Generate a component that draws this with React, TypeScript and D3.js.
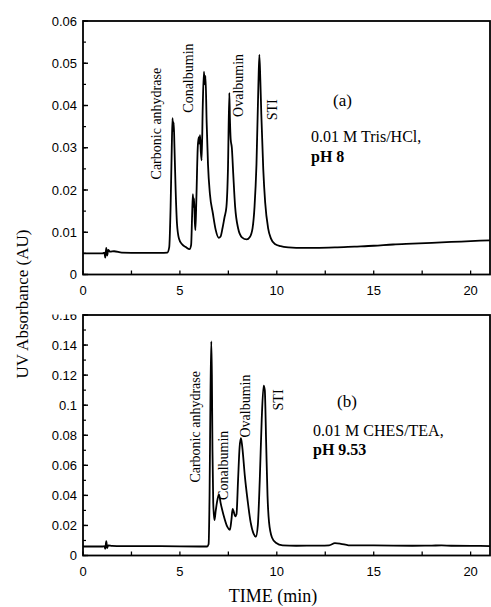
import React from "react";
import * as d3 from "d3";

// ---- Data ----
const timeA = [0, 0.5, 1.0, 1.1, 1.15, 1.2, 1.25, 1.3, 1.4, 1.6, 2.0, 3.0, 4.0, 4.35, 4.45, 4.52, 4.58, 4.62, 4.65, 4.68, 4.72, 4.78, 4.85, 4.95, 5.1, 5.3, 5.5, 5.58, 5.63, 5.67, 5.7, 5.73, 5.77, 5.8, 5.85, 5.92, 5.97, 6.0, 6.04, 6.08, 6.12, 6.18, 6.24, 6.28, 6.32, 6.38, 6.45, 6.55, 6.7, 6.85, 7.0, 7.1, 7.2, 7.3, 7.4, 7.48, 7.55, 7.58, 7.62, 7.68, 7.75, 7.85, 8.0, 8.2, 8.45, 8.6, 8.75, 8.85, 8.95, 9.05, 9.1, 9.15, 9.2, 9.3, 9.4, 9.55, 9.7, 9.9, 10.2, 10.6, 11, 12, 13, 14, 15, 16, 17, 18, 19, 20, 21];
const absA = [0.005, 0.005, 0.005, 0.0052, 0.004, 0.0063, 0.0045, 0.0058, 0.0054, 0.0055, 0.0052, 0.0051, 0.0051, 0.0052, 0.0065, 0.016, 0.03, 0.037, 0.034, 0.036, 0.03, 0.02, 0.012, 0.0085, 0.0072, 0.0065, 0.006, 0.007, 0.014, 0.019, 0.016, 0.018, 0.0125, 0.0105, 0.018, 0.03, 0.0325, 0.031, 0.033, 0.029, 0.027, 0.04, 0.048, 0.045, 0.047, 0.036, 0.026, 0.019, 0.0145, 0.0105, 0.0087, 0.009, 0.011, 0.0135, 0.016, 0.025, 0.043, 0.037, 0.032, 0.03, 0.024, 0.016, 0.011, 0.0088, 0.0083, 0.0088, 0.011, 0.016, 0.026, 0.045, 0.052, 0.046, 0.038, 0.025, 0.017, 0.011, 0.0085, 0.0072, 0.0067, 0.0064, 0.0063, 0.0063, 0.0064, 0.0066, 0.0068, 0.0071, 0.0073, 0.0075, 0.0077, 0.0079, 0.0081];

const timeB = [0, 0.5, 1.0, 1.1, 1.15, 1.2, 1.25, 1.3, 1.5, 2, 3, 4, 5, 6, 6.4, 6.48, 6.53, 6.58, 6.62, 6.65, 6.68, 6.72, 6.78, 6.85, 6.95, 7.02, 7.1, 7.25, 7.45, 7.58, 7.66, 7.72, 7.78, 7.85, 7.92, 8.0, 8.08, 8.15, 8.22, 8.35, 8.5, 8.65, 8.8, 8.92, 9.02, 9.12, 9.22, 9.32, 9.38, 9.45, 9.52, 9.6, 9.75, 9.95, 10.3, 11, 12, 12.7, 13.0, 13.3, 13.7, 14, 15, 16, 17, 18, 18.5, 19, 20, 21];
const absB = [0.006, 0.006, 0.006, 0.0062, 0.0045, 0.0095, 0.005, 0.0068, 0.0064, 0.0062, 0.0062, 0.0062, 0.0061, 0.006, 0.006, 0.0075, 0.04, 0.11, 0.1425, 0.12, 0.07, 0.035, 0.0235, 0.03, 0.038, 0.0405, 0.035, 0.027, 0.019, 0.017, 0.024, 0.031, 0.029, 0.026, 0.0275, 0.05, 0.072, 0.078, 0.072, 0.053, 0.036, 0.022, 0.0145, 0.0125, 0.02, 0.05, 0.09, 0.113, 0.11, 0.075, 0.04, 0.022, 0.012, 0.0085, 0.0068, 0.0065, 0.0066, 0.0068, 0.0082, 0.0078, 0.0068, 0.0067, 0.0067, 0.0066, 0.0065, 0.0066, 0.0067, 0.0065, 0.0064, 0.0063];

const xTicks = [0, 5, 10, 15, 20];
const yTicksA = [0, 0.01, 0.02, 0.03, 0.04, 0.05, 0.06];
const yTicksB = [0, 0.02, 0.04, 0.06, 0.08, 0.1, 0.12, 0.14, 0.16];

const labelsA = [
  { name: "Carbonic anhydrase", t: 4.0, y: 0.0225 },
  { name: "Conalbumin", t: 5.7, y: 0.0383 },
  { name: "Ovalbumin", t: 8.28, y: 0.0373 },
  { name: "STI", t: 10.0, y: 0.0365 },
];
const labelsB = [
  { name: "Carbonic anhydrase", t: 6.04, y: 0.0485 },
  { name: "Conalbumin", t: 7.48, y: 0.037 },
  { name: "Ovalbumin", t: 8.6, y: 0.0785 },
  { name: "STI", t: 10.3, y: 0.0965 },
];

const W = 491;
const H = 607;
const L = 83;
const R = 490;

const fmt = (v: number) => String(+v.toFixed(2));

type PanelProps = {
  top: number;
  bottom: number;
  yMax: number;
  yTicks: number[];
  yMinorStep: number;
  times: number[];
  values: number[];
  labels: { name: string; t: number; y: number }[];
  id: string;
  tag: string;
  tagX: number;
  tagY: number;
  line1: string;
  line1Y: number;
  line1X: number;
  line2: string;
  line2Y: number;
  clipTop?: number;
};

function Panel(p: PanelProps) {
  const x = d3.scaleLinear().domain([0, 21]).range([L, R]);
  const y = d3.scaleLinear().domain([0, p.yMax]).range([p.bottom, p.top]);
  const line = d3
    .line<number>()
    .x((_, i) => x(p.times[i]))
    .y((d) => y(d))
    .curve(d3.curveMonotoneX);
  const minorY = d3.range(0, p.yMax + 1e-9, p.yMinorStep);
  const minorX = d3.range(0, 21, 2.5);
  return (
    <g>
      <defs>
        <clipPath id={"clip" + p.id}>
          <rect x={L} y={p.top} width={R - L} height={p.bottom - p.top} />
        </clipPath>
        <clipPath id={"lab" + p.id}>
          <rect x={0} y={p.clipTop ?? 0} width={L} height={H} />
        </clipPath>
      </defs>
      <path
        d={line(p.values) || ""}
        fill="none"
        stroke="#000"
        strokeWidth={1.8}
        strokeLinejoin="round"
        clipPath={`url(#clip${p.id})`}
      />
      <rect x={L} y={p.top} width={R - L} height={p.bottom - p.top} fill="none" stroke="#000" strokeWidth={1.8} />
      {minorY.map((v, i) => (
        <line key={"my" + i} x1={L} x2={L + 3} y1={y(v)} y2={y(v)} stroke="#000" strokeWidth={1.2} />
      ))}
      {p.yTicks.map((v, i) => (
        <line key={"yt" + i} x1={L} x2={L + 5} y1={y(v)} y2={y(v)} stroke="#000" strokeWidth={1.4} />
      ))}
      {minorX.map((v, i) => (
        <line key={"mx" + i} x1={x(v)} x2={x(v)} y1={p.bottom} y2={p.bottom - 4} stroke="#000" strokeWidth={1.3} />
      ))}
      <g clipPath={`url(#lab${p.id})`}>
        {p.yTicks.map((v, i) => (
          <text
            key={"yl" + i}
            x={L - 6}
            y={y(v)}
            dy="0.35em"
            textAnchor="end"
            fontFamily="'Liberation Sans', Arial, sans-serif"
            fontSize={13}
          >
            {fmt(v)}
          </text>
        ))}
      </g>
      {xTicks.map((v, i) => (
        <text
          key={"xl" + i}
          x={x(v)}
          y={p.bottom + 20}
          textAnchor="middle"
          fontFamily="'Liberation Sans', Arial, sans-serif"
          fontSize={13}
        >
          {v}
        </text>
      ))}
      {p.labels.map((l, i) => (
        <text
          key={"pl" + i}
          transform={`translate(${x(l.t)},${y(l.y)}) rotate(-90)`}
          fontFamily="'Liberation Serif', 'Times New Roman', serif"
          fontSize={14}
        >
          {l.name}
        </text>
      ))}
      <text x={p.tagX} y={p.tagY} fontFamily="'Liberation Serif', 'Times New Roman', serif" fontSize={17}>
        {p.tag}
      </text>
      <text x={p.line1X} y={p.line1Y} fontFamily="'Liberation Serif', 'Times New Roman', serif" fontSize={16}>
        {p.line1}
      </text>
      <text
        x={p.line1X}
        y={p.line2Y}
        fontFamily="'Liberation Serif', 'Times New Roman', serif"
        fontSize={16}
        fontWeight="bold"
      >
        {p.line2}
      </text>
    </g>
  );
}

export default function App() {
  return (
    <svg width={W} height={H} style={{ position: "absolute", left: 0, top: 0, background: "#fff" }}>
      <rect x={0} y={0} width={W} height={H} fill="#fff" />
      <Panel
        id="a"
        top={21}
        bottom={274.5}
        yMax={0.06}
        yTicks={yTicksA}
        yMinorStep={0.005}
        times={timeA}
        values={absA}
        labels={labelsA}
        tag="(a)"
        tagX={333}
        tagY={106}
        line1="0.01 M Tris/HCl,"
        line1X={311}
        line1Y={142}
        line2="pH 8"
        line2Y={162}
      />
      <Panel
        id="b"
        top={315}
        bottom={555.5}
        yMax={0.16}
        yTicks={yTicksB}
        yMinorStep={0.01}
        times={timeB}
        values={absB}
        labels={labelsB}
        tag="(b)"
        tagX={337}
        tagY={407}
        line1="0.01 M CHES/TEA,"
        line1X={313}
        line1Y={436}
        line2="pH 9.53"
        line2Y={455}
        clipTop={314.5}
      />
      <text
        transform="translate(28,304) rotate(-90)"
        textAnchor="middle"
        fontFamily="'Liberation Serif', 'Times New Roman', serif"
        fontSize={17}
      >
        UV Absorbance (AU)
      </text>
      <text
        x={273}
        y={602}
        textAnchor="middle"
        fontFamily="'Liberation Serif', 'Times New Roman', serif"
        fontSize={18}
      >
        TIME (min)
      </text>
    </svg>
  );
}
